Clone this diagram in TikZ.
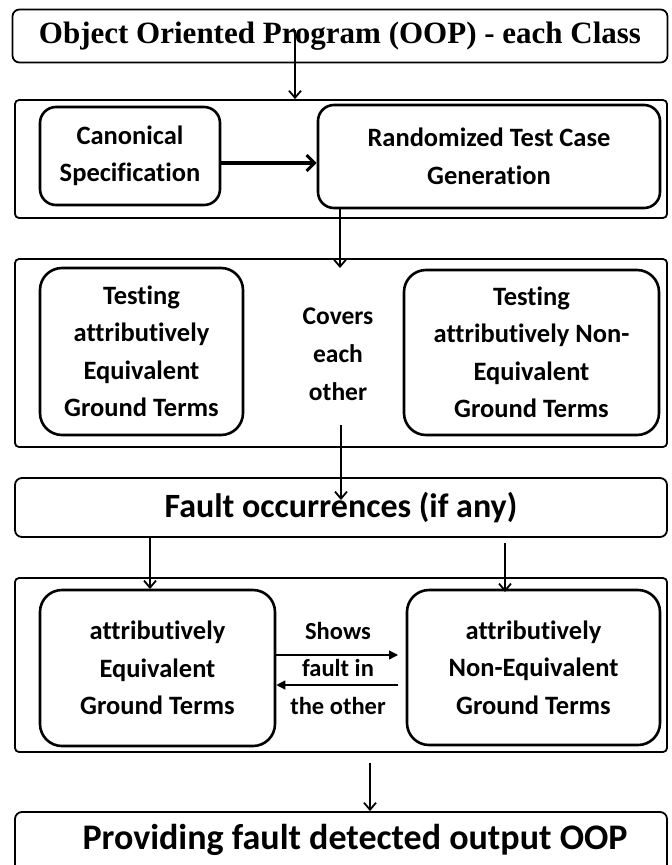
\documentclass[tikz,border=0pt]{standalone}
\usepackage{fontspec}
\setmainfont{Carlito}[Ligatures=NoCommon]
\newfontfamily\titlefont{Liberation Serif}
\usetikzlibrary{arrows.meta}
\begin{document}
\begin{tikzpicture}[x=1pt,y=-1pt,
  outer/.style={draw,line width=1.8pt,rounded corners=4pt,minimum width=652pt,inner sep=0pt},
  inner/.style={draw,line width=2.6pt,rounded corners=16pt,inner sep=0pt,align=center,font=\bfseries\fontsize{26.5}{37.5}\selectfont},
  midtext/.style={align=center,inner sep=0pt,font=\bfseries\fontsize{25.5}{38}\selectfont},
  arr/.style={line width=1.8pt,-{Straight Barb[length=7pt,width=12pt,line width=1.8pt]}},
  harr/.style={line width=1.3pt,-{Triangle[length=9pt,width=9pt]}},
  thickarr/.style={line width=4pt,-{Straight Barb[length=8pt,width=16pt,line width=3pt]}}]
\useasboundingbox (0,0) rectangle (672,865);
\clip (0,0) rectangle (672,865);
% title
\node[outer,rounded corners=7pt,minimum width=655pt,minimum height=53pt,
      font=\titlefont\bfseries\fontsize{31}{34}\selectfont] (title) at (340,36) {Object Oriented Program (OOP) - each Class};
% box 2
\node[outer,minimum height=118pt] (box2) at (341,159) {};
\node[inner,minimum width=180pt,minimum height=98pt] (canon) at (130,156) {Canonical\\Specification};
\node[inner,minimum width=342pt,minimum height=103pt] (rand) at (489,156.5) {Randomized Test Case\\Generation};
% box 3
\node[outer,minimum height=188pt] (box3) at (341,353) {};
\node[inner,minimum width=203pt,minimum height=167pt,rounded corners=22pt] (testeq) at (141.5,351.5) {Testing\\attributively\\Equivalent\\Ground Terms};
\node[midtext] (covers) at (338,354) {Covers\\each\\other};
\node[inner,minimum width=255pt,minimum height=165pt,rounded corners=22pt] (testnon) at (531.5,352.5) {Testing\\attributively Non-\\Equivalent\\Ground Terms};
% fault
\node[outer,rounded corners=7pt,minimum height=59pt,font=\bfseries\fontsize{34}{36}\selectfont] (fault) at (341,507.5) {Fault occurrences (if any)};
% box 5
\node[outer,minimum height=174pt] (box5) at (341,665) {};
\node[inner,minimum width=235pt,minimum height=156pt,rounded corners=22pt] (eq) at (157.5,668) {attributively\\Equivalent\\Ground Terms};
\node[midtext,font=\bfseries\fontsize{24.5}{37.5}\selectfont] (shows) at (338,668) {Shows\\fault in\\the other};
\node[inner,minimum width=253pt,minimum height=155pt,rounded corners=22pt] (non) at (533.5,667.5) {attributively\\Non-Equivalent\\Ground Terms};
% final
\node[outer,rounded corners=7pt,minimum height=78pt] (final) at (341,851) {};
\node[inner sep=0pt,font=\bfseries\fontsize{36}{40}\selectfont] (finaltext) at (355,840) {Providing fault detected output OOP};
% connectors
\coordinate (s1) at (295,30);
\draw[arr] (s1) -- (s1 |- box2.north);
\draw[thickarr] (canon.east |- 0,163) -- (rand.west |- 0,163);
\coordinate (s2) at (340,208);
\coordinate (e2) at (340,268);
\draw[arr] (s2) -- (e2);
\coordinate (s3) at (341,425);
\coordinate (e3) at (341,500);
\draw[arr] (s3) -- (e3);
\coordinate (s4) at (150,537);
\draw[arr] (s4) -- (150,589);
\coordinate (s5) at (505,543);
\draw[arr] (s5) -- (505,592);
\coordinate (h1) at (398,655);
\coordinate (h2) at (398,685);
\draw[harr] (eq.east |- h1) -- (h1);
\draw[harr] (h2) -- (eq.east |- h2);
\coordinate (s6) at (370,763);
\draw[arr] (s6) -- (s6 |- final.north);
\end{tikzpicture}
\end{document}
